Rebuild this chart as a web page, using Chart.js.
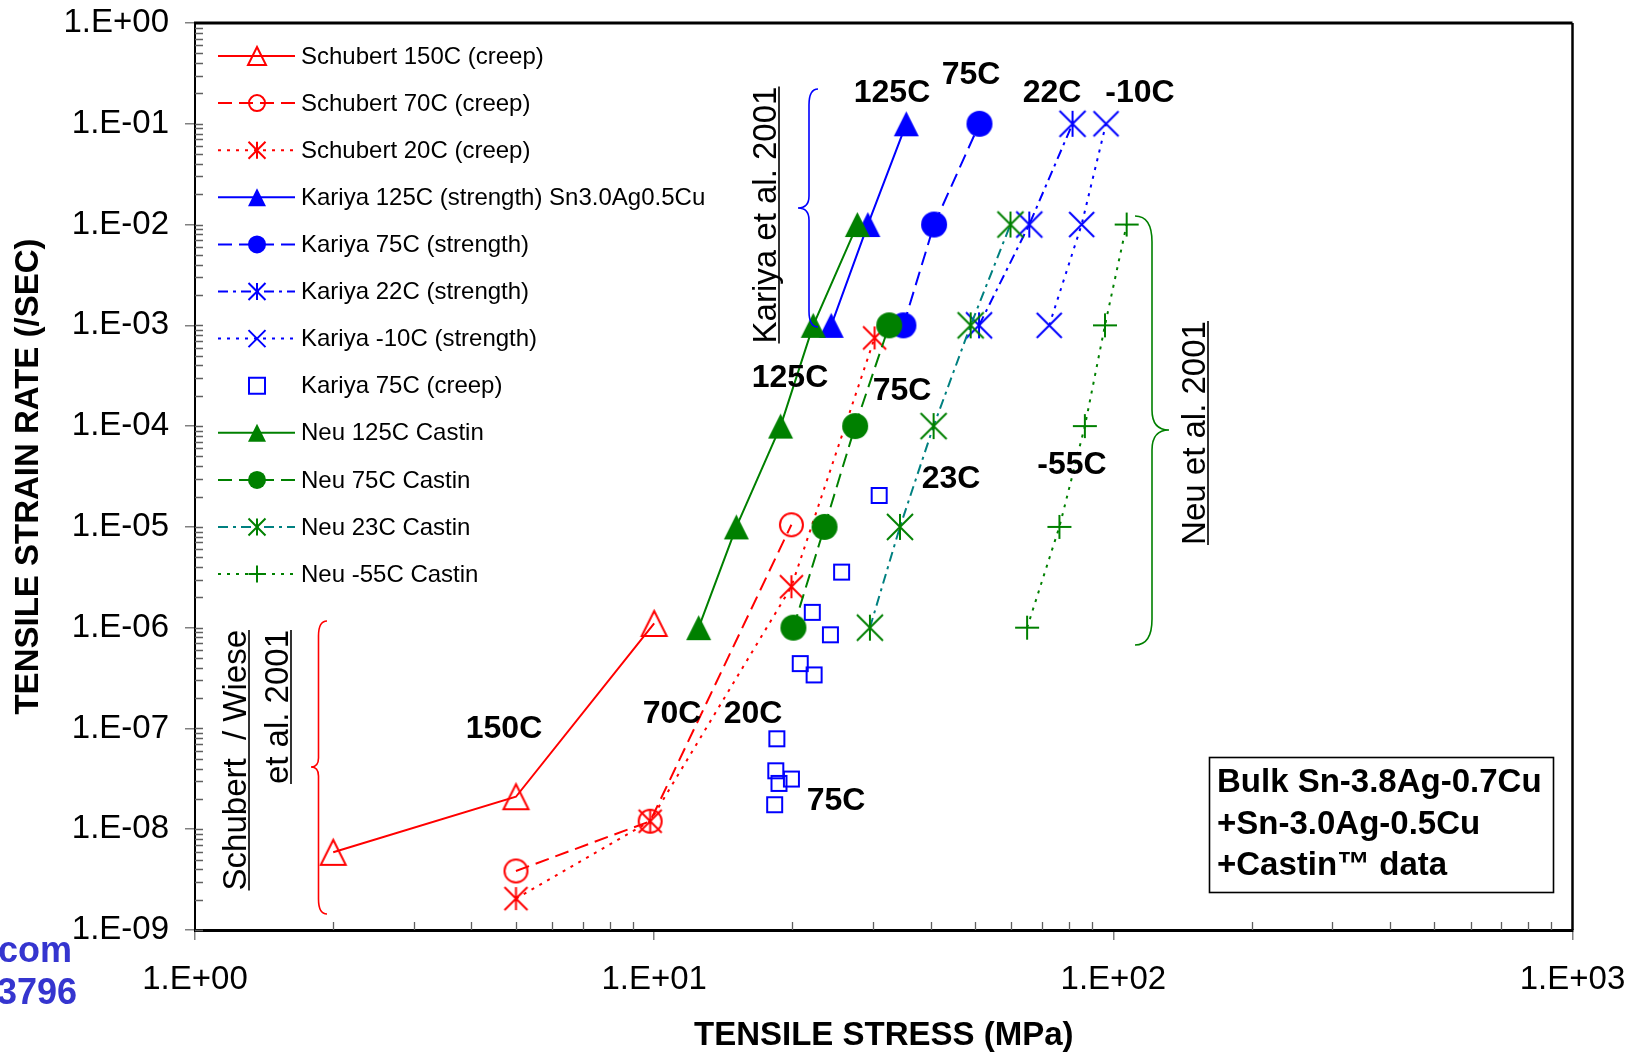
<!DOCTYPE html>
<html><head><meta charset="utf-8">
<script src="https://cdn.jsdelivr.net/npm/chart.js@4.4.1/dist/chart.umd.min.js"></script>
<style>html,body{margin:0;padding:0;background:#fff;}#wrap{width:1630px;height:1053px;}</style>
</head><body><div id="wrap"><canvas id="c" width="1630" height="1053"></canvas></div>
<script>
// ---------------- data ----------------
const seriesLabels = [
  'Schubert 150C (creep)', 'Schubert 70C (creep)', 'Schubert 20C (creep)',
  'Kariya 125C (strength) Sn3.0Ag0.5Cu', 'Kariya 75C (strength)', 'Kariya 22C (strength)',
  'Kariya -10C (strength)', 'Kariya 75C (creep)', 'Neu 125C Castin', 'Neu 75C Castin',
  'Neu 23C Castin', 'Neu -55C Castin'
];
const schubert150X = [2.0, 5.0, 10.0];
const schubert150Y = [5.9e-9, 2.1e-8, 1.1e-6];
const schubert70X = [5.0, 9.8, 19.9];
const schubert70Y = [3.85e-9, 1.2e-8, 1.05e-5];
const schubert20X = [5.0, 9.8, 19.9, 30.2];
const schubert20Y = [2.05e-9, 1.2e-8, 2.55e-6, 7.5e-4];
const kariya125X = [24.3, 29.2, 35.4];
const kariya125Y = [1e-3, 1e-2, 1e-1];
const kariya75X = [34.9, 40.7, 51.1];
const kariya75Y = [1e-3, 1e-2, 1e-1];
const kariya22X = [51.0, 65.6, 81.5];
const kariya22Y = [1e-3, 1e-2, 1e-1];
const kariyaM10X = [72.5, 85.3, 96.4];
const kariyaM10Y = [1e-3, 1e-2, 1e-1];
const kariyaCreepX = [30.9, 25.6, 22.1, 24.2, 20.8, 22.3, 18.5, 18.4, 19.9, 18.7, 18.3];
const kariyaCreepY = [2.05e-5, 3.56e-6, 1.42e-6, 8.5e-7, 4.4e-7, 3.4e-7, 7.9e-8, 3.8e-8, 3.15e-8, 2.85e-8, 1.75e-8];
const neu125X = [12.5, 15.1, 18.85, 22.2, 27.7];
const neu125Y = [1e-6, 1e-5, 1e-4, 1e-3, 1e-2];
const neu75X = [20.1, 23.5, 27.4, 32.5];
const neu75Y = [1e-6, 1e-5, 1e-4, 1e-3];
const neu23X = [29.5, 34.3, 40.6, 48.9, 59.7];
const neu23Y = [1e-6, 1e-5, 1e-4, 1e-3, 1e-2];
const neuM55X = [64.9, 76.3, 86.7, 95.9, 106.9];
const neuM55Y = [1e-6, 1e-5, 1e-4, 1e-3, 1e-2];
const xTickValues = [1, 10, 100, 1000];
const yTickValues = [1e-9, 1e-8, 1e-7, 1e-6, 1e-5, 1e-4, 1e-3, 1e-2, 1e-1, 1];
const annotationLabels = ['125C', '75C', '22C', '-10C', '125C', '75C', '23C', '-55C', '150C', '70C', '20C', '75C'];
const noteLines = ['Bulk Sn-3.8Ag-0.7Cu', '+Sn-3.0Ag-0.5Cu', '+Castin\u2122 data'];

// ---------------- styling ----------------
const FONT = "'Liberation Sans', Arial, Helvetica, sans-serif";
const RED = '#FF0000', BLUE = '#0000FF', GREEN = '#008000', TEAL = '#008080';
const DASH = [14, 7], DOT = [3, 6], DASHDOT = [10, 5, 3, 5];

function drawMarker(ctx, type, color, cx, cy, s, lw) {
  const h = s / 2;
  ctx.save();
  ctx.strokeStyle = color; ctx.fillStyle = color; ctx.lineWidth = lw; ctx.setLineDash([]);
  ctx.beginPath();
  switch (type) {
    case 'triOpen':
    case 'triFill':
      ctx.moveTo(cx, cy - h); ctx.lineTo(cx + h, cy + h); ctx.lineTo(cx - h, cy + h); ctx.closePath();
      if (type === 'triFill') ctx.fill(); else ctx.stroke();
      break;
    case 'circOpen':
      ctx.arc(cx, cy, h - lw / 2, 0, Math.PI * 2); ctx.stroke(); break;
    case 'circFill':
      ctx.arc(cx, cy, h, 0, Math.PI * 2); ctx.fill(); break;
    case 'aster':
      ctx.moveTo(cx - h, cy - h); ctx.lineTo(cx + h, cy + h);
      ctx.moveTo(cx + h, cy - h); ctx.lineTo(cx - h, cy + h);
      ctx.moveTo(cx, cy - h); ctx.lineTo(cx, cy + h); ctx.stroke(); break;
    case 'x':
      ctx.moveTo(cx - h, cy - h); ctx.lineTo(cx + h, cy + h);
      ctx.moveTo(cx + h, cy - h); ctx.lineTo(cx - h, cy + h); ctx.stroke(); break;
    case 'plus':
      ctx.moveTo(cx - h, cy); ctx.lineTo(cx + h, cy);
      ctx.moveTo(cx, cy - h); ctx.lineTo(cx, cy + h); ctx.stroke(); break;
    case 'square':
      ctx.rect(cx - h, cy - h, s, s); ctx.stroke(); break;
  }
  ctx.restore();
}
function markerCanvas(type, color, s, lw) {
  const pad = 3;
  const c = document.createElement('canvas');
  c.width = c.height = Math.round(s + 2 * pad);
  drawMarker(c.getContext('2d'), type, color, c.width / 2, c.height / 2, s, lw);
  return c;
}
function pts(xs, ys) { return xs.map((x, i) => ({ x: x, y: ys[i] })); }

const seriesDefs = [
  { x: schubert150X, y: schubert150Y, line: RED, mcol: RED, dash: [], mk: 'triOpen', size: 25, lsize: 18 },
  { x: schubert70X, y: schubert70Y, line: RED, mcol: RED, dash: DASH, mk: 'circOpen', size: 25, lsize: 18 },
  { x: schubert20X, y: schubert20Y, line: RED, mcol: RED, dash: DOT, mk: 'aster', size: 23, lsize: 17 },
  { x: kariya125X, y: kariya125Y, line: BLUE, mcol: BLUE, dash: [], mk: 'triFill', size: 25, lsize: 18 },
  { x: kariya75X, y: kariya75Y, line: BLUE, mcol: BLUE, dash: DASH, mk: 'circFill', size: 26, lsize: 18 },
  { x: kariya22X, y: kariya22Y, line: BLUE, mcol: BLUE, dash: DASHDOT, mk: 'aster', size: 26, lsize: 17 },
  { x: kariyaM10X, y: kariyaM10Y, line: BLUE, mcol: BLUE, dash: DOT, mk: 'x', size: 25, lsize: 17 },
  { x: kariyaCreepX, y: kariyaCreepY, line: null, mcol: BLUE, dash: [], mk: 'square', size: 15, lsize: 16 },
  { x: neu125X, y: neu125Y, line: GREEN, mcol: GREEN, dash: [], mk: 'triFill', size: 25, lsize: 18 },
  { x: neu75X, y: neu75Y, line: GREEN, mcol: GREEN, dash: DASH, mk: 'circFill', size: 26, lsize: 18 },
  { x: neu23X, y: neu23Y, line: TEAL, mcol: GREEN, dash: DASHDOT, mk: 'aster', size: 26, lsize: 17 },
  { x: neuM55X, y: neuM55Y, line: GREEN, mcol: GREEN, dash: DOT, mk: 'plus', size: 24, lsize: 17 }
];
const N = seriesDefs.length;
const datasets = seriesDefs.map((d, i) => ({
  label: seriesLabels[i],
  data: pts(d.x, d.y),
  showLine: !!d.line,
  borderColor: d.line || d.mcol,
  borderWidth: 2,
  borderDash: d.dash,
  tension: 0,
  fill: false,
  pointStyle: markerCanvas(d.mk, d.mcol, d.size, 2),
  pointRadius: 12,
  pointHoverRadius: 12,
  order: N - i
}));

function fmtExp(v) {
  const e = Math.round(Math.log10(v));
  const a = Math.abs(e);
  return '1.E' + (e < 0 ? '-' : '+') + (a < 10 ? '0' : '') + a;
}

function rotUnderlined(ctx, text, x, y, align) {
  ctx.save();
  ctx.translate(x, y);
  ctx.rotate(-Math.PI / 2);
  ctx.font = '33px ' + FONT;
  ctx.fillStyle = '#000';
  ctx.textAlign = align;
  ctx.textBaseline = 'alphabetic';
  ctx.fillText(text, 0, 0);
  const w = ctx.measureText(text).width;
  let x0 = 0;
  if (align === 'center') x0 = -w / 2; else if (align === 'right') x0 = -w;
  ctx.strokeStyle = '#000'; ctx.lineWidth = 1.6;
  ctx.beginPath(); ctx.moveTo(x0, 3); ctx.lineTo(x0 + w, 3); ctx.stroke();
  ctx.restore();
}
function brace(ctx, color, xEnd, xBody, xTip, yTop, yMid, yBot, rEnd, rTip) {
  ctx.save();
  ctx.strokeStyle = color; ctx.lineWidth = 1.6; ctx.setLineDash([]);
  ctx.beginPath();
  ctx.moveTo(xEnd, yTop);
  ctx.quadraticCurveTo(xBody, yTop, xBody, yTop + rEnd);
  ctx.lineTo(xBody, yMid - rTip);
  ctx.quadraticCurveTo(xBody, yMid, xTip, yMid);
  ctx.quadraticCurveTo(xBody, yMid, xBody, yMid + rTip);
  ctx.lineTo(xBody, yBot - rEnd);
  ctx.quadraticCurveTo(xBody, yBot, xEnd, yBot);
  ctx.stroke();
  ctx.restore();
}

const annotationPos = [
  [892, 92], [971, 74], [1052, 92], [1140, 92], [790, 377], [902, 390],
  [951, 478], [1072, 464], [504, 728], [672, 713], [753, 713], [836, 800]
];

const decor = {
  id: 'decor',
  afterDraw(chart) {
    const ctx = chart.ctx, xs = chart.scales.x, ys = chart.scales.y, a = chart.chartArea;
    ctx.save();
    // minor ticks
    ctx.strokeStyle = '#606060'; ctx.lineWidth = 1.3; ctx.setLineDash([]);
    ctx.beginPath();
    for (let e = -9; e < 0; e++) {
      for (let k = 1; k <= 9; k++) {
        const py = Math.round(ys.getPixelForValue(k * Math.pow(10, e))) + 0.5;
        ctx.moveTo(a.left, py); ctx.lineTo(a.left + 8, py);
      }
    }
    for (let e = 0; e < 3; e++) {
      for (let k = 2; k <= 9; k++) {
        const px = Math.round(xs.getPixelForValue(k * Math.pow(10, e))) + 0.5;
        ctx.moveTo(px, a.bottom); ctx.lineTo(px, a.bottom - 8);
      }
    }
    ctx.stroke();
    // frame top and right
    ctx.strokeStyle = '#000';
    ctx.lineWidth = 3;
    ctx.beginPath(); ctx.moveTo(a.left - 1, a.top); ctx.lineTo(a.right, a.top); ctx.stroke();
    ctx.lineWidth = 2.5;
    ctx.beginPath(); ctx.moveTo(a.right, a.top); ctx.lineTo(a.right, a.bottom); ctx.stroke();

    // legend
    const LX0 = 218, LX1 = 295, LMX = 257, LTX = 301, LY0 = 56, LDY = 47.1;
    ctx.font = '24px ' + FONT;
    ctx.textAlign = 'left'; ctx.textBaseline = 'middle';
    seriesDefs.forEach((d, i) => {
      const y = LY0 + i * LDY;
      if (d.line) {
        ctx.save();
        ctx.strokeStyle = d.line; ctx.lineWidth = 2; ctx.setLineDash(d.dash);
        ctx.beginPath(); ctx.moveTo(LX0, y); ctx.lineTo(LX1, y); ctx.stroke();
        ctx.restore();
      }
      drawMarker(ctx, d.mk, d.mcol, LMX, y, d.lsize, 2);
      ctx.fillStyle = '#000';
      ctx.fillText(seriesLabels[i], LTX, y + 1);
    });

    // annotation labels
    ctx.font = 'bold 32px ' + FONT;
    ctx.fillStyle = '#000'; ctx.textAlign = 'center'; ctx.textBaseline = 'middle';
    annotationLabels.forEach((t, i) => ctx.fillText(t, annotationPos[i][0], annotationPos[i][1] + 1));

    // rotated source labels
    rotUnderlined(ctx, 'Kariya et al. 2001', 776, 215, 'center');
    rotUnderlined(ctx, 'Neu et al. 2001', 1205, 433, 'center');
    rotUnderlined(ctx, 'Schubert  / Wiese', 246, 630, 'right');
    rotUnderlined(ctx, 'et al. 2001', 288, 630, 'right');

    // braces
    brace(ctx, BLUE, 818, 809, 798, 89, 208, 327, 16, 12);
    brace(ctx, RED, 327, 318.5, 311, 621, 767, 914, 15, 9);
    brace(ctx, GREEN, 1135, 1152, 1169, 216, 430, 645, 26, 20);

    // note box
    ctx.strokeStyle = '#000'; ctx.lineWidth = 1.6;
    ctx.strokeRect(1209.5, 757.5, 344, 135);
    ctx.font = 'bold 33px ' + FONT;
    ctx.textAlign = 'left'; ctx.textBaseline = 'alphabetic'; ctx.fillStyle = '#000';
    noteLines.forEach((t, i) => ctx.fillText(t, 1217, 792 + i * 41.5));

    // watermark fragments
    ctx.font = 'bold 36px ' + FONT;
    ctx.fillStyle = '#3535CF'; ctx.textAlign = 'right';
    ctx.fillText('com', 72, 962);
    ctx.fillText('3796', 77, 1004);
    ctx.restore();
  }
};

new Chart(document.getElementById('c').getContext('2d'), {
  type: 'scatter',
  data: { datasets: datasets },
  options: {
    responsive: false,
    animation: false,
    events: [],
    layout: { padding: { left: 0, top: 23, right: 57.5, bottom: 0 } },
    plugins: { legend: { display: false }, tooltip: { enabled: false } },
    scales: {
      x: {
        type: 'logarithmic', position: 'bottom', min: 1, max: 1000,
        afterBuildTicks: s => { s.ticks = xTickValues.map(v => ({ value: v, major: true })); },
        afterFit: s => { s.height = 123; s.paddingLeft = 0; s.paddingRight = 0; },
        ticks: { callback: v => fmtExp(v), font: { family: FONT, size: 33 }, color: '#000', padding: 20, maxRotation: 0, autoSkip: false },
        grid: { drawOnChartArea: false, drawTicks: true, tickLength: 10, color: '#808080', lineWidth: 1.5 },
        border: { display: true, color: '#000', width: 3 },
        title: { display: true, text: 'TENSILE STRESS (MPa)', color: '#000', font: { family: FONT, size: 33, weight: 'bold', lineHeight: 1 }, padding: { top: 0, bottom: 1 } }
      },
      y: {
        type: 'logarithmic', position: 'left', min: 1e-9, max: 1,
        afterBuildTicks: s => { s.ticks = yTickValues.map(v => ({ value: v, major: true })); },
        afterFit: s => { s.width = 195; s.paddingTop = 0; s.paddingBottom = 0; },
        ticks: { callback: v => fmtExp(v), font: { family: FONT, size: 33 }, color: '#000', padding: 16, autoSkip: false },
        grid: { drawOnChartArea: false, drawTicks: true, tickLength: 10, color: '#808080', lineWidth: 1.5 },
        border: { display: true, color: '#000', width: 2 },
        title: { display: true, text: 'TENSILE STRAIN RATE (/SEC)', color: '#000', font: { family: FONT, size: 33, weight: 'bold', lineHeight: 1 }, padding: { top: 12, bottom: 0 } }
      }
    }
  },
  plugins: [decor]
});
</script>
</body></html>
